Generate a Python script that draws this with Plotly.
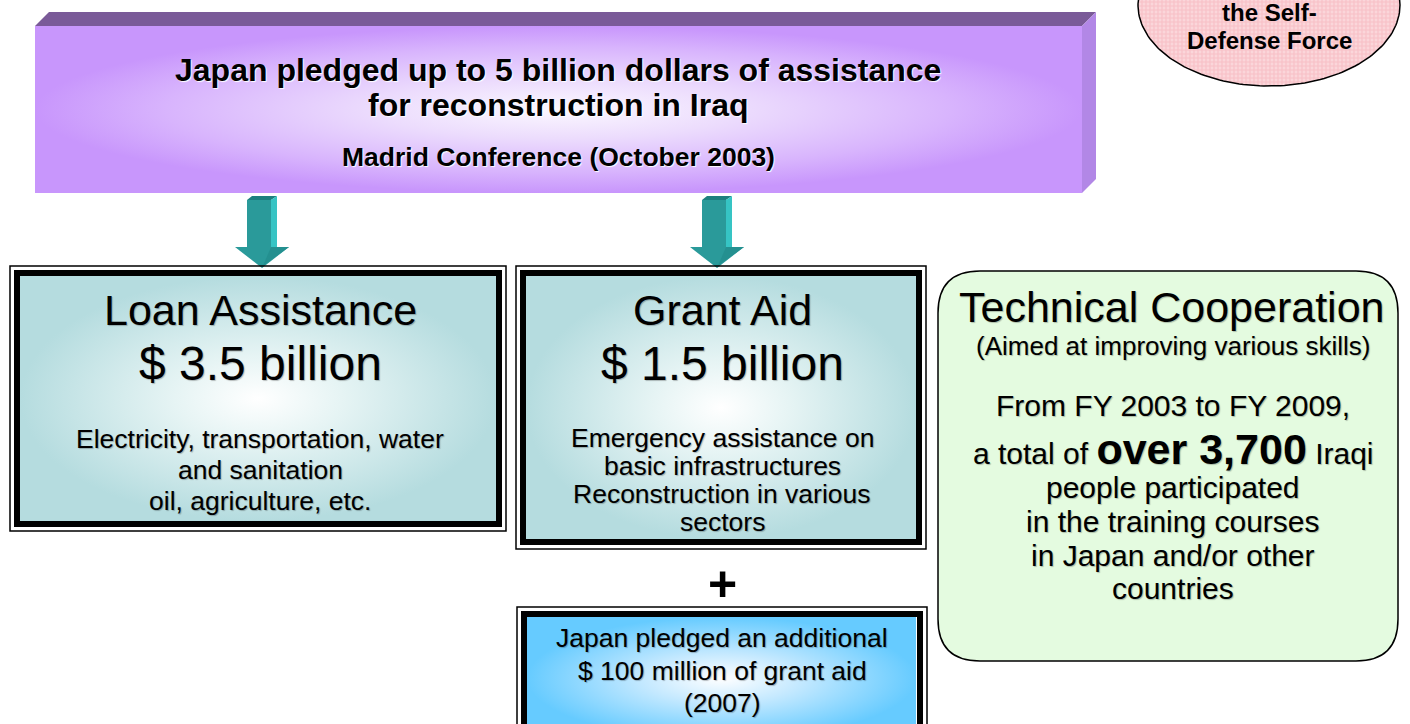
import numpy as np
import plotly.graph_objects as go

# ---------------- content (text data) ----------------
banner_title = ["Japan pledged up to 5 billion dollars of assistance",
                "for reconstruction in Iraq"]
banner_sub = "Madrid Conference (October 2003)"

loan_title = "Loan Assistance"
loan_amount = "$ 3.5 billion"
loan_items = ["Electricity, transportation, water", "and sanitation",
              "oil, agriculture, etc."]

grant_title = "Grant Aid"
grant_amount = "$ 1.5 billion"
grant_items = ["Emergency assistance on", "basic infrastructures",
               "Reconstruction in various", "sectors"]

extra_items = ["Japan pledged an additional", "$ 100 million of grant aid", "(2007)"]

tech_title = "Technical Cooperation"
tech_sub = "(Aimed at improving various skills)"
tech_count = "over 3,700"
tech_lines = ["From FY 2003 to FY 2009,",
              "a total of <b><span style='font-size:43px'>" + tech_count + "</span></b> Iraqi",
              "people participated", "in the training courses",
              "in Japan and/or other", "countries"]

sdf_lines = ["the Self-", "Defense Force"]

W, H = 1410, 724
FONT = "Liberation Sans, Arial, sans-serif"
SHADOW = "1px 1px 1px rgba(0,0,0,0.25)"

fig = go.Figure()
shapes = []
annots = []


def grad_rect(x0, y0, x1, y1, scale):
    fig.add_trace(go.Scatter(
        x=[x0, x1, x1, x0, x0], y=[y0, y0, y1, y1, y0], mode="lines",
        fill="toself", line=dict(width=0), hoverinfo="skip", showlegend=False,
        fillgradient=dict(type="radial", colorscale=scale)))


def poly(pts, color):
    d = "M " + " L ".join(f"{x},{y}" for x, y in pts) + " Z"
    shapes.append(dict(type="path", path=d, fillcolor=color, line=dict(width=0)))


def text(x, y, s, size, bold=False, color="black", shadow=SHADOW):
    if bold:
        s = "<b>" + s + "</b>"
    annots.append(dict(x=x, y=y, text=s, showarrow=False, xanchor="center",
                       yanchor="middle",
                       font=dict(family=FONT, size=size, color=color, shadow=shadow)))


def double_box(x0, y0, x1, y1):
    shapes.append(dict(type="rect", x0=x0, y0=y0, x1=x1, y1=y1,
                       line=dict(color="black", width=1.5)))
    shapes.append(dict(type="rect", x0=x0 + 7, y0=y0 + 7, x1=x1 - 7, y1=y1 - 7,
                       line=dict(color="black", width=6)))


# ---------------- banner (3D block) ----------------
bx0, by0, bx1, by1, dep = 35, 26, 1082, 193, 14
poly([(bx0, by0), (bx0 + dep, by0 - dep), (bx1 + dep, by0 - dep), (bx1, by0)], "#7a5a98")
poly([(bx1, by0), (bx1 + dep, by0 - dep), (bx1 + dep, by1 - dep), (bx1, by1)], "#b287e6")
grad_rect(bx0, by0, bx1, by1,
          [[0, "#fbf8ff"], [0.35, "#ecdcfd"], [0.75, "#d8b4fd"], [1, "#c896fc"]])
text(558, 70, banner_title[0], 32, bold=True, shadow="1px 1px 1px white")
text(558, 105, banner_title[1], 32, bold=True, shadow="1px 1px 1px white")
text(558, 157, banner_sub, 26.5, bold=True, shadow="1px 1px 1px white")

# ---------------- arrows ----------------
def arrow(cx):
    sx0, sx1, side = cx - 15, cx + 9, 6
    top, neck, tip = 200, 247, 268
    poly([(sx0, top), (sx0 + 5, top - 4), (sx1 + side, top - 4), (sx1, top)], "#1d7f7f")
    poly([(sx1, top), (sx1 + side, top - 4), (sx1 + side, neck), (sx1, neck)], "#36c4c4")
    poly([(sx0, top), (sx1, top), (sx1, neck), (sx0, neck)], "#2a9a9a")
    poly([(cx - 27, neck), (cx + 27, neck), (cx, tip)], "#2a9a9a")
    poly([(cx + 9, neck), (cx + 27, neck), (cx + 2, tip - 3), (cx, tip)], "#249090")


arrow(262)
arrow(717)

# ---------------- loan box ----------------
teal = [[0, "#ffffff"], [0.35, "#e6f4f4"], [1, "#b5dcdf"]]
grad_rect(20, 276, 496, 521, teal)
double_box(10, 266, 506, 531)
text(260, 310, loan_title, 43)
text(260, 363, loan_amount, 48)
for i, s in enumerate(loan_items):
    text(260, 439 + 31 * i, s, 26.5)

# ---------------- grant box ----------------
grad_rect(526, 276, 916, 539, teal)
double_box(516, 266, 926, 549)
text(722, 310, grant_title, 43)
text(722, 363, grant_amount, 48)
for i, s in enumerate(grant_items):
    text(722, 438 + 28 * i, s, 26.5)

# plus
text(722, 584, "+", 50, bold=True, shadow="none")

# ---------------- extra grant box ----------------
grad_rect(527, 617, 916, 740,
          [[0, "#ffffff"], [0.4, "#c5e9ff"], [1, "#66cbff"]])
double_box(517, 607, 927, 750)
for i, s in enumerate(extra_items):
    text(722, 638 + 32.5 * i, s, 26.5)

# ---------------- technical cooperation ----------------
x0, y0, x1, y1, r = 938, 271, 1398, 661, 42
path = (f"M {x0+r},{y0} L {x1-r},{y0} Q {x1},{y0} {x1},{y0+r} L {x1},{y1-r} "
        f"Q {x1},{y1} {x1-r},{y1} L {x0+r},{y1} Q {x0},{y1} {x0},{y1-r} "
        f"L {x0},{y0+r} Q {x0},{y0} {x0+r},{y0} Z")
shapes.append(dict(type="path", path=path, fillcolor="#e4fbe0",
                   line=dict(color="black", width=1.5)))
text(1172, 307, tech_title, 43)
text(1173, 346, tech_sub, 26)
tech_y = [405, 449, 487, 521, 555, 588]
for s, y in zip(tech_lines, tech_y):
    text(1173, y, s, 30)

# ---------------- SDF ellipse ----------------
t = np.linspace(0, 2 * np.pi, 200)
ecx, ecy, erx, ery = 1269, 5, 131, 81
fig.add_trace(go.Scatter(
    x=ecx + erx * np.cos(t), y=ecy + ery * np.sin(t), mode="lines", fill="toself",
    fillcolor="#f7c2c8", line=dict(color="black", width=1.5),
    fillpattern=dict(shape="+", fgcolor="#f4aab3", bgcolor="#fbd6da", size=4, solidity=0.5),
    hoverinfo="skip", showlegend=False))
text(1269, 12, sdf_lines[0], 24, bold=True, shadow="none")
text(1269, 40, sdf_lines[1], 24, bold=True, shadow="none")

fig.update_layout(
    width=W, height=H, margin=dict(l=0, r=0, t=0, b=0),
    paper_bgcolor="white", plot_bgcolor="white",
    xaxis=dict(range=[0, W], visible=False, fixedrange=True),
    yaxis=dict(range=[H, 0], visible=False, fixedrange=True),
    shapes=shapes, annotations=annots, showlegend=False)
fig.write_html("out.html", config={"displayModeBar": False},
               post_script="document.body.style.margin='0';document.body.style.overflow='hidden';")
